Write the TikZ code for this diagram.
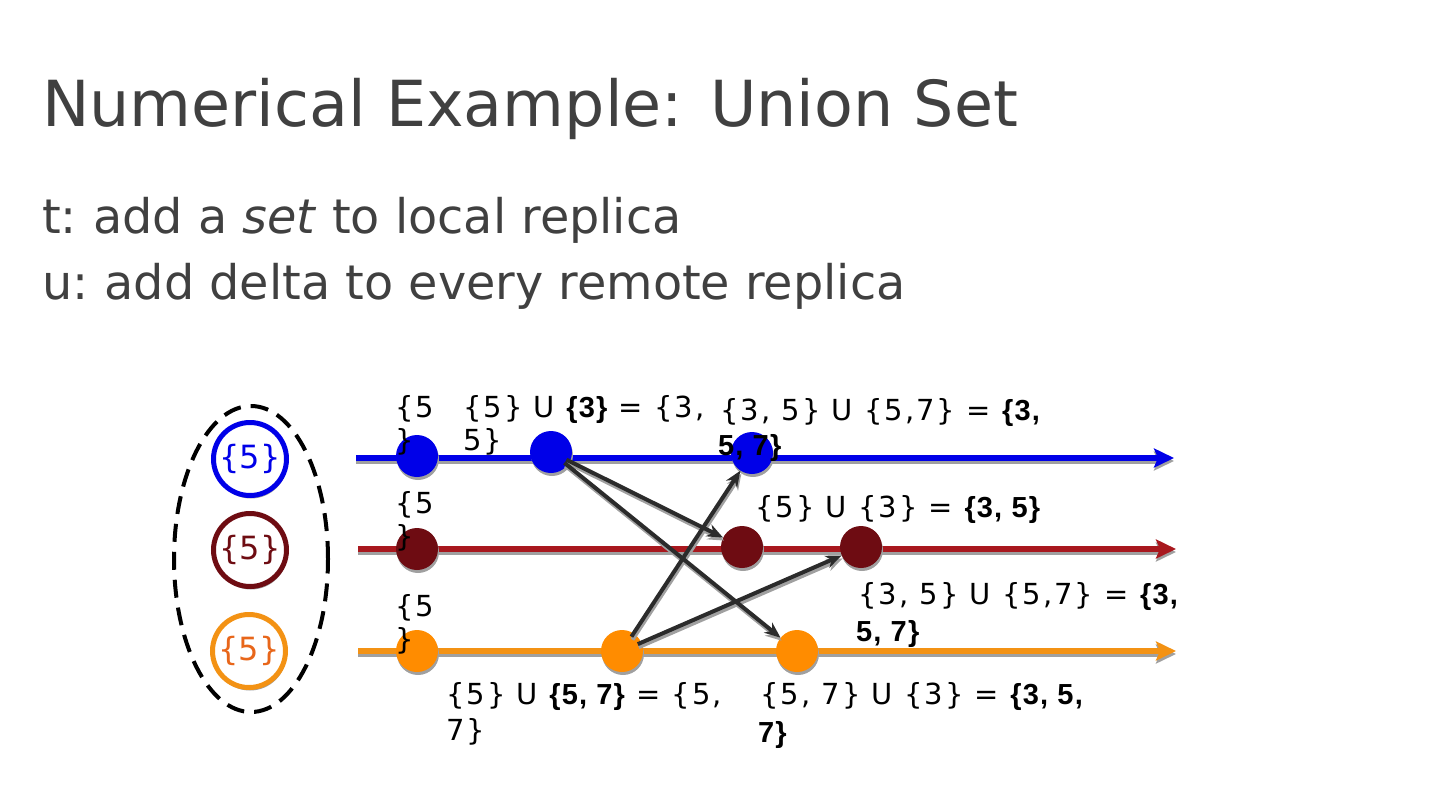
\documentclass[tikz,border=0pt]{standalone}
\usepackage{fontspec}
\setmainfont{DejaVu Sans}
\newfontfamily\labfont{DejaVu Sans}[LetterSpace=7]
\newfontfamily\arialfont{Liberation Sans}[LetterSpace=4]
\usetikzlibrary{arrows.meta,shadows,shapes.geometric}
\definecolor{tgray}{HTML}{404040}
\definecolor{cblue}{HTML}{0000E8}
\definecolor{cred}{HTML}{A8181E}
\definecolor{cdred}{HTML}{6E0C12}
\definecolor{corange}{HTML}{F39214}
\definecolor{cdorange}{HTML}{FF8C00}
\definecolor{corangetext}{HTML}{E8661A}
\definecolor{carrow}{HTML}{2B2B2B}
\definecolor{cshadow}{HTML}{A0A0A0}
\newcommand{\bb}[1]{{\arialfont\bfseries #1}}
\begin{document}
\begin{tikzpicture}[x=1pt,y=-1pt,
  lab/.style={anchor=base west,inner sep=0pt,font=\labfont\fontsize{29}{33}\selectfont},
  dot/.style={circle,inner sep=0pt,minimum size=42pt,draw=none,
     drop shadow={shadow xshift=1pt,shadow yshift=-3pt,fill=cshadow,opacity=1}},
  replica/.style={circle,inner sep=0pt,minimum size=73pt,line width=5pt,fill=white,
     drop shadow={shadow xshift=1pt,shadow yshift=-3pt,fill=cshadow,opacity=1},
     font=\fontsize{32}{36}\selectfont},
  tline/.style={line width=6pt,-{Stealth[length=20pt,width=19pt,inset=4pt]}},
  shline/.style={line width=6pt,draw=cshadow,-{Stealth[length=20pt,width=19pt,inset=4pt]}},
  msg/.style={line width=4pt,draw=carrow,-{Stealth[length=16pt,width=13pt]},shorten <=-4pt},
  msgsh/.style={line width=4pt,draw=cshadow,-{Stealth[length=16pt,width=13pt]},shorten <=-4pt}
]
\useasboundingbox (0,0) rectangle (1440,811);

% title and subtitle
\node[anchor=base west,inner sep=0pt,text=tgray,font=\fontsize{63.5}{70}\selectfont] (title) at (42,126) {Numerical Example: Union Set};
\node[anchor=base west,inner sep=0pt,text=tgray,font=\fontsize{47.7}{54}\selectfont] (sub1) at (42,233) {t:\kern-4pt{} add a \textit{set} to local replica};
\node[anchor=base west,inner sep=0pt,text=tgray,font=\fontsize{47.7}{54}\selectfont] (sub2) at (42,299) {u:\kern-4pt{} add delta to every remote replica};

% dashed ellipse with replicas
\node[draw=black,line width=4pt,dash pattern=on 18pt off 10pt,ellipse,minimum width=154pt,minimum height=306pt,inner sep=0pt] (group) at (251,559) {};
\node[replica,draw=cblue,text=cblue] (rb) at (250,459) {\{5\}};
\node[replica,draw=cdred,text=cdred] (rr) at (250,550) {\{5\}};
\node[replica,draw=corange,text=corangetext] (ro) at (249,651) {\{5\}};

% timelines
\coordinate (bs) at (356,458); \coordinate (be) at (1174,458);
\coordinate (rs) at (358,549); \coordinate (re) at (1176,549);
\coordinate (os) at (358,651); \coordinate (oe) at (1176,651);
\draw[shline] ([yshift=-3pt]bs) -- ([yshift=-3pt]be);
\draw[shline] ([yshift=-3pt]rs) -- ([yshift=-3pt]re);
\draw[shline] ([yshift=-3pt]os) -- ([yshift=-3pt]oe);
\draw[tline,draw=cblue,fill=cblue] (bs) -- (be);
\draw[tline,draw=cred,fill=cred] (rs) -- (re);
\draw[tline,draw=corange,fill=corange] (os) -- (oe);

% events
\node[dot,fill=cblue] (b1) at (417,456) {};
\node[dot,fill=cblue] (b2) at (551,452) {};
\node[dot,fill=cblue] (b3) at (752,453) {};
\node[dot,fill=cdred] (r1) at (417,549) {};
\node[dot,fill=cdred] (r2) at (742,547) {};
\node[dot,fill=cdred] (r3) at (861,547) {};
\node[dot,fill=cdorange] (o1) at (417,651) {};
\node[dot,fill=cdorange] (o2) at (622,651) {};
\node[dot,fill=cdorange] (o3) at (797,651) {};

% messages
\begin{scope}[transform canvas={xshift=1pt,yshift=-3pt}]
\draw[msgsh] (b2) -- (r2);
\draw[msgsh] (b2) -- (o3);
\draw[msgsh] (o2) -- (b3);
\draw[msgsh] (o2) -- (r3);
\end{scope}
\draw[msg] (b2) -- (r2);
\draw[msg] (b2) -- (o3);
\draw[msg] (o2) -- (b3);
\draw[msg] (o2) -- (r3);

% labels
\node[lab] (lb1a) at (395,417) {\{5};
\node[lab] (lb1b) at (395,450) {\}};
\node[lab] (lr1a) at (395,513) {\{5};
\node[lab] (lr1b) at (395,546) {\}};
\node[lab] (lo1a) at (395,616) {\{5};
\node[lab] (lo1b) at (395,649) {\}};

\node[lab] (lb2a) at (463,417) {\{5\} U \bb{\{3\}} = \{3,};
\node[lab] (lb2b) at (463,450) {5\}};
\node[lab] (lb3a) at (720,420) {\{3, 5\} U \{5,7\} = \bb{\{3,}};
\node[lab] (lb3b) at (718,455) {\bb{5, 7\}}};
\node[lab] (lr2) at (755,517) {\{5\} U \{3\} = \bb{\{3, 5\}}};
\node[lab] (lr3a) at (858,604) {\{3, 5\} U \{5,7\} = \bb{\{3,}};
\node[lab] (lr3b) at (856,641) {\bb{5, 7\}}};
\node[lab] (lo2a) at (446,704) {\{5\} U \bb{\{5, 7\}} = \{5,};
\node[lab] (lo2b) at (446,740) {7\}};
\node[lab] (lo3a) at (760,704) {\{5, 7\} U \{3\} = \bb{\{3, 5,}};
\node[lab] (lo3b) at (758,742) {\bb{7\}}};
\end{tikzpicture}
\end{document}
